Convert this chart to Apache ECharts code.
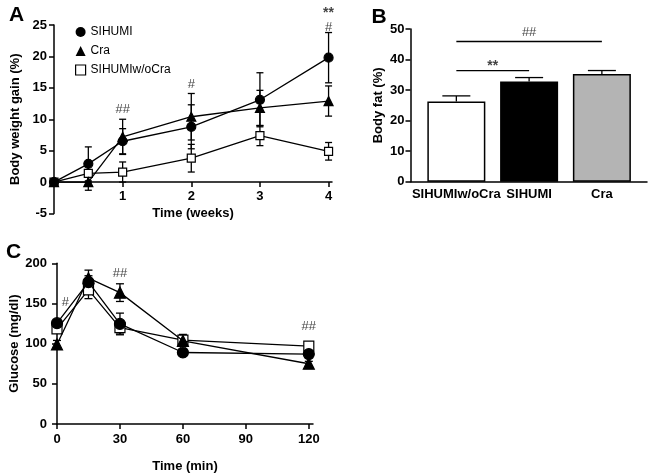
<!DOCTYPE html>
<html><head><meta charset="utf-8">
<script src="https://cdn.jsdelivr.net/npm/echarts@6/dist/echarts.min.js"></script>
<style>html,body{margin:0;padding:0;background:#fff}#c{width:650px;height:474px}</style>
</head><body><div id="c"></div>
<script>
// ---------- Panel A : body weight gain ----------
const weeks = [0, 0.5, 1, 2, 3, 4];
const weekTicks = [1, 2, 3, 4];
const gainSIHUMI = [0, 2.9, 6.5, 8.8, 13.1, 19.8];
const gainSIHUMIErr = [0, 2.7, 2.0, 3.5, 4.3, 4.0];
const gainCra = [0, 0, 7.2, 10.4, 11.8, 12.9];
const gainCraErr = [0, 1.3, 2.8, 3.7, 2.8, 2.4];
const gainWoCra = [0, 1.4, 1.6, 3.8, 7.4, 4.9];
const gainWoCraErr = [0, 1.4, 1.6, 2.2, 1.6, 1.4];
const gainMarkX = [1, 2, 4, 4];
const gainMarkY = [11.6, 15.5, 24.6, 26.9];
const gainMarkText = ['##', '#', '#', '**'];

// ---------- Panel B : body fat ----------
const fatGroups = ['SIHUMIw/oCra', 'SIHUMI', 'Cra'];
const fatValues = [26.3, 32.8, 35.3];
const fatErr = [1.8, 1.3, 1.1];
const fatBracketFrom = [1, 1];
const fatBracketTo = [3, 2];
const fatBracketY = [45.9, 36.4];
const fatBracketText = ['##', '**'];
const fatBracketTextY = [48.9, 38.0];

// ---------- Panel C : glucose ----------
const minutes = [0, 15, 30, 60, 120];
const minuteTicks = [0, 30, 60, 90, 120];
const gluSIHUMI = [125.5, 176.5, 124.5, 89, 87];
const gluSIHUMIErr = [4, 8, 13.5, 3, 3];
const gluCra = [99, 181.5, 163.5, 103.5, 75];
const gluCraErr = [5, 10, 11, 5, 3];
const gluWoCra = [118.5, 167, 120, 104.5, 97];
const gluWoCraErr = [4, 11, 8, 7, 3];
const gluMarkX = [4, 30, 120];
const gluMarkY = [151, 188, 121];
const gluMarkText = ['#', '##', '##'];

// ---------- styles ----------
const FONT = '"Liberation Sans", Arial, sans-serif';
const BLACK = '#000';
const fatColors = ['#ffffff', '#000000', '#b4b4b4'];

const chart = echarts.init(document.getElementById('c'), null, {renderer: 'canvas'});

const axisLineS = {show: true, onZero: false, lineStyle: {color: BLACK, width: 1.5}};
const tickS = {show: true, length: 5, inside: false, lineStyle: {color: BLACK, width: 1.5}};
const labelS = {color: BLACK, fontSize: 13, fontWeight: 'bold', fontFamily: FONT};
const nameS = {color: BLACK, fontSize: 13, fontWeight: 'bold', fontFamily: FONT};

function pairs(xs, ys) { return xs.map((x, i) => [x, ys[i]]); }
function triples(xs, ys, es) { return xs.map((x, i) => [x, ys[i], es[i]]); }

function errSeries(name, xi, data, capW, upOnly) {
  return {
    type: 'custom', name: name + '_err', xAxisIndex: xi, yAxisIndex: xi, z: 2, silent: true, clip: false,
    encode: {x: 0, y: 1},
    data: data,
    renderItem: function (params, api) {
      const x = api.value(0), y = api.value(1), e = api.value(2);
      if (!e) return null;
      const top = api.coord([x, y + e]);
      const bot = upOnly ? api.coord([x, y]) : api.coord([x, y - e]);
      const st = {stroke: BLACK, lineWidth: 1.3};
      const ch = [
        {type: 'line', shape: {x1: top[0], y1: top[1], x2: bot[0], y2: bot[1]}, style: st},
        {type: 'line', shape: {x1: top[0] - capW / 2, y1: top[1], x2: top[0] + capW / 2, y2: top[1]}, style: st}
      ];
      if (!upOnly) ch.push({type: 'line', shape: {x1: bot[0] - capW / 2, y1: bot[1], x2: bot[0] + capW / 2, y2: bot[1]}, style: st});
      return {type: 'group', children: ch};
    }
  };
}

function lineSeries(name, xi, data, symbol, size, fill, z) {
  return {
    type: 'line', name: name, xAxisIndex: xi, yAxisIndex: xi, data: data, z: z,
    symbol: symbol, symbolSize: size, showAllSymbol: true, animation: false,
    lineStyle: {color: BLACK, width: 1.3},
    itemStyle: {color: fill, borderColor: BLACK, borderWidth: 1.2, opacity: 1},
    emphasis: {disabled: true}
  };
}

function markSeries(xi, xs, ys, texts) {
  return {
    type: 'scatter', xAxisIndex: xi, yAxisIndex: xi, symbolSize: 0, silent: true, clip: false, z: 5,
    data: xs.map((x, i) => ({
      name: texts[i], value: [x, ys[i]],
      label: {fontWeight: texts[i].indexOf('*') >= 0 ? 'bold' : 'normal', fontSize: texts[i].indexOf('*') >= 0 ? 14 : 13}
    })),
    label: {show: true, position: 'inside', formatter: '{b}', color: '#111', fontFamily: FONT}
  };
}

const series = [
  // Panel A
  errSeries('A1', 0, triples(weeks, gainWoCra, gainWoCraErr), 7, false),
  errSeries('A2', 0, triples(weeks, gainSIHUMI, gainSIHUMIErr), 7, false),
  errSeries('A3', 0, triples(weeks, gainCra, gainCraErr), 7, false),
  lineSeries('SIHUMIw/oCra', 0, pairs(weeks, gainWoCra), 'rect', 8, '#fff', 3),
  lineSeries('SIHUMI', 0, pairs(weeks, gainSIHUMI), 'circle', 9, BLACK, 4),
  lineSeries('Cra', 0, pairs(weeks, gainCra), 'triangle', 9, BLACK, 4),
  markSeries(0, gainMarkX, gainMarkY, gainMarkText),
  // Panel B
  {
    type: 'bar', name: 'fat', xAxisIndex: 1, yAxisIndex: 1, barWidth: 58, z: 3, animation: false,
    data: fatValues.map((v, i) => ({value: [i + 1, v], itemStyle: {color: fatColors[i]}})),
    itemStyle: {borderColor: BLACK, borderWidth: 1.5}
  },
  errSeries('B', 1, triples([1, 2, 3], fatValues, fatErr), 28, true),
  ...fatBracketY.map((y, i) => ({
    type: 'line', xAxisIndex: 1, yAxisIndex: 1, symbol: 'none', silent: true, z: 4,
    data: [[fatBracketFrom[i], y], [fatBracketTo[i], y]],
    lineStyle: {color: BLACK, width: 1.3}
  })),
  markSeries(1, fatBracketFrom.map((f, i) => (f + fatBracketTo[i]) / 2), fatBracketTextY, fatBracketText),
  // Panel C
  errSeries('C1', 2, triples(minutes, gluWoCra, gluWoCraErr), 8, false),
  errSeries('C2', 2, triples(minutes, gluSIHUMI, gluSIHUMIErr), 8, false),
  errSeries('C3', 2, triples(minutes, gluCra, gluCraErr), 8, false),
  lineSeries('SIHUMIw/oCra', 2, pairs(minutes, gluWoCra), 'rect', 10, '#fff', 3),
  lineSeries('SIHUMI', 2, pairs(minutes, gluSIHUMI), 'circle', 11, BLACK, 4),
  lineSeries('Cra', 2, pairs(minutes, gluCra), 'triangle', 11, BLACK, 4),
  markSeries(2, gluMarkX, gluMarkY, gluMarkText)
];

const option = {
  animation: false,
  backgroundColor: '#fff',
  textStyle: {fontFamily: FONT},
  grid: [
    {left: 54, top: 25, width: 278, height: 188.5},
    {left: 410.5, top: 29, width: 236.5, height: 152.7},
    {left: 57, top: 263.3, width: 256, height: 161}
  ],
  xAxis: [
    {type: 'value', gridIndex: 0, min: 0, max: 4.05, offset: -31.4,
     axisLine: {show: true, onZero: false, lineStyle: {color: BLACK, width: 1.5}},
     axisTick: Object.assign({customValues: weekTicks}, tickS),
     axisLabel: Object.assign({customValues: weekTicks, margin: 8}, labelS),
     splitLine: {show: false},
     name: 'Time (weeks)', nameLocation: 'middle', nameGap: 25, nameTextStyle: nameS},
    {type: 'value', gridIndex: 1, min: 0.37, max: 3.62,
     axisLine: axisLineS, axisTick: {show: false},
     axisLabel: Object.assign({customValues: [1, 2, 3], margin: 6, formatter: v => fatGroups[Math.round(v) - 1]}, labelS),
     splitLine: {show: false}},
    {type: 'value', gridIndex: 2, min: 0, max: 122,
     axisLine: axisLineS,
     axisTick: Object.assign({customValues: minuteTicks}, tickS),
     axisLabel: Object.assign({customValues: minuteTicks, margin: 9}, labelS),
     splitLine: {show: false},
     name: 'Time (min)', nameLocation: 'middle', nameGap: 36, nameTextStyle: nameS}
  ],
  yAxis: [
    {type: 'value', gridIndex: 0, min: -5, max: 25, interval: 5,
     axisLine: axisLineS, axisTick: tickS, axisLabel: Object.assign({margin: 7}, labelS),
     splitLine: {show: false},
     name: 'Body weight gain (%)', nameLocation: 'middle', nameGap: 32, nameTextStyle: nameS},
    {type: 'value', gridIndex: 1, min: 0, max: 50, interval: 10,
     axisLine: axisLineS, axisTick: tickS, axisLabel: Object.assign({margin: 6}, labelS),
     splitLine: {show: false},
     name: 'Body fat (%)', nameLocation: 'middle', nameGap: 26, nameTextStyle: nameS},
    {type: 'value', gridIndex: 2, min: 0, max: 200, interval: 50,
     axisLine: axisLineS, axisTick: tickS, axisLabel: Object.assign({margin: 10}, labelS),
     splitLine: {show: false},
     name: 'Glucose (mg/dl)', nameLocation: 'middle', nameGap: 36, nameTextStyle: nameS}
  ],
  legend: {
    orient: 'vertical', left: 70, top: 21, itemWidth: 10, itemHeight: 10, itemGap: 7,
    selectedMode: false,
    textStyle: {fontSize: 12, color: BLACK, fontFamily: FONT},
    data: [
      {name: 'SIHUMI', icon: 'circle', itemStyle: {color: BLACK, borderWidth: 0}},
      {name: 'Cra', icon: 'triangle', itemStyle: {color: BLACK, borderWidth: 0}},
      {name: 'SIHUMIw/oCra', icon: 'rect', itemStyle: {color: '#fff', borderColor: BLACK, borderWidth: 1.2}}
    ]
  },
  graphic: [
    {type: 'text', x: 16.5, y: 15, style: {text: 'A', fontSize: 21, fontWeight: 'bold', fontFamily: FONT, fill: BLACK, align: 'center', verticalAlign: 'middle'}},
    {type: 'text', x: 379, y: 17.5, style: {text: 'B', fontSize: 21, fontWeight: 'bold', fontFamily: FONT, fill: BLACK, align: 'center', verticalAlign: 'middle'}},
    {type: 'text', x: 13.5, y: 252.5, style: {text: 'C', fontSize: 21, fontWeight: 'bold', fontFamily: FONT, fill: BLACK, align: 'center', verticalAlign: 'middle'}}
  ],
  series: series
};
chart.setOption(option);
</script>
</body></html>
